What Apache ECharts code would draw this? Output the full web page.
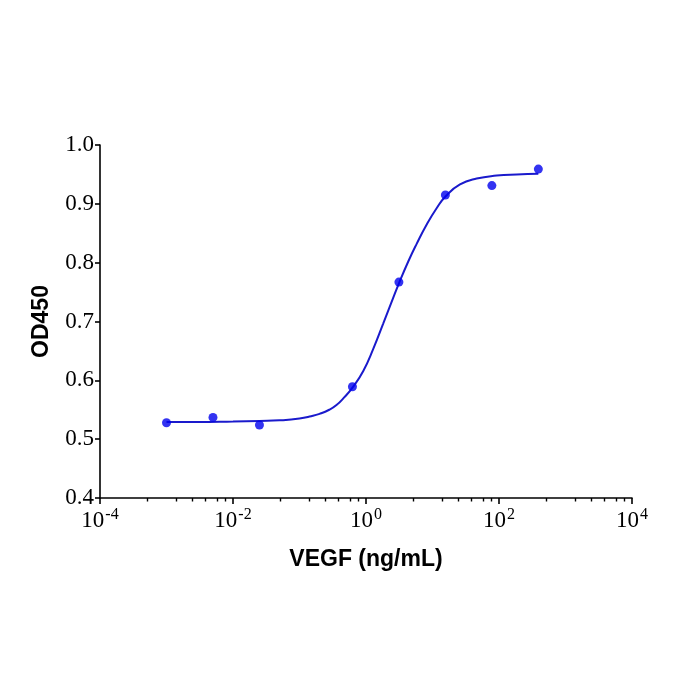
<!DOCTYPE html>
<html>
<head>
<meta charset="utf-8">
<script src="https://cdn.jsdelivr.net/npm/echarts@6/dist/echarts.min.js"></script>
<style>html,body{margin:0;padding:0;background:#fff}#c{width:700px;height:700px}</style>
</head>
<body>
<div id="c"></div>
<script>
// Measured points: VEGF concentration (ng/mL) and OD450
const concentrations = [0.001, 0.005, 0.025, 0.625, 3.125, 15.625, 78.125, 390.625];
const od450 = [0.528, 0.537, 0.524, 0.589, 0.767, 0.915, 0.931, 0.959];

// Fitted curve
const curveX = [0.001, 0.003, 0.01, 0.025, 0.05, 0.1, 0.15, 0.2, 0.28, 0.36, 0.47, 0.63, 0.91, 1.29, 1.82, 2.58, 3.13, 4.32, 5.78, 8.18, 11.6, 15.8, 25.9, 46.2, 92.3, 184.5, 390.6];
const curveY = [0.529, 0.529, 0.530, 0.531, 0.532, 0.535, 0.539, 0.543, 0.550, 0.558, 0.571, 0.588, 0.616, 0.654, 0.697, 0.741, 0.765, 0.802, 0.832, 0.865, 0.893, 0.913, 0.933, 0.943, 0.948, 0.950, 0.951];

// Axis ticks
const xMajorTicks = [1e-4, 1e-2, 1, 1e2, 1e4];
const xMinorMultipliers = [5.2, 14, 24, 38, 57, 76];
const yTicks = [0.4, 0.5, 0.6, 0.7, 0.8, 0.9, 1.0];

const xMinorTicks = [];
for (let i = 0; i < xMajorTicks.length - 1; i++) {
  xMinorMultipliers.forEach(m => xMinorTicks.push(xMajorTicks[i] * m));
}

const serif = '"Liberation Serif", "Times New Roman", serif';
const sans = '"Liberation Sans", Arial, sans-serif';

const chart = echarts.init(document.getElementById('c'), null, {renderer: 'canvas'});
chart.setOption({
  backgroundColor: '#ffffff',
  animation: false,
  grid: {left: 100, right: 68, top: 145, bottom: 202, containLabel: false},
  xAxis: [{
    type: 'log',
    logBase: 10,
    min: 1e-4,
    max: 1e4,
    name: 'VEGF (ng/mL)',
    nameLocation: 'middle',
    nameGap: 50,
    nameTextStyle: {fontFamily: sans, fontWeight: 'bold', fontSize: 23, color: '#000'},
    axisLine: {show: true, onZero: false, lineStyle: {color: '#000', width: 1.6}},
    axisTick: {show: true, inside: false, length: 6, customValues: xMajorTicks, lineStyle: {color: '#000', width: 1.6}},
    minorTick: {show: false},
    splitLine: {show: false},
    axisLabel: {
      customValues: xMajorTicks,
      margin: 9,
      color: '#000',
      fontFamily: serif,
      fontSize: 23,
      formatter: function (v) {
        return '10{s|' + Math.round(Math.log10(v)) + '}';
      },
      rich: {
        s: {fontFamily: serif, fontSize: 16, color: '#000', padding: [0, 0, 12, 1]}
      }
    }
  }, {
    type: 'log',
    logBase: 10,
    min: 1e-4,
    max: 1e4,
    position: 'bottom',
    axisLine: {show: false},
    axisTick: {show: true, length: 3.5, customValues: xMinorTicks, lineStyle: {color: '#000', width: 1.4}},
    axisLabel: {show: false},
    splitLine: {show: false}
  }],
  yAxis: {
    type: 'value',
    min: 0.4,
    max: 1.0,
    interval: 0.1,
    name: 'OD450',
    nameLocation: 'middle',
    nameGap: 47,
    nameRotate: 90,
    nameTextStyle: {fontFamily: sans, fontWeight: 'bold', fontSize: 23, color: '#000'},
    axisLine: {show: true, lineStyle: {color: '#000', width: 1.6}},
    axisTick: {show: true, length: 5, lineStyle: {color: '#000', width: 1.6}},
    splitLine: {show: false},
    axisLabel: {
      margin: 6,
      color: '#000',
      fontFamily: serif,
      fontSize: 23,
      formatter: function (v) { return v.toFixed(1); }
    }
  },
  series: [{
    type: 'line',
    name: 'fit',
    data: curveX.map((x, i) => [x, curveY[i]]),
    smooth: 0.5,
    showSymbol: false,
    symbol: 'none',
    lineStyle: {color: '#1a1acc', width: 2},
    z: 2
  }, {
    type: 'scatter',
    name: 'data',
    data: concentrations.map((x, i) => [x, od450[i]]),
    symbol: 'circle',
    symbolSize: 9,
    itemStyle: {color: '#0000ee'},
    z: 3
  }]
});
</script>
</body>
</html>
